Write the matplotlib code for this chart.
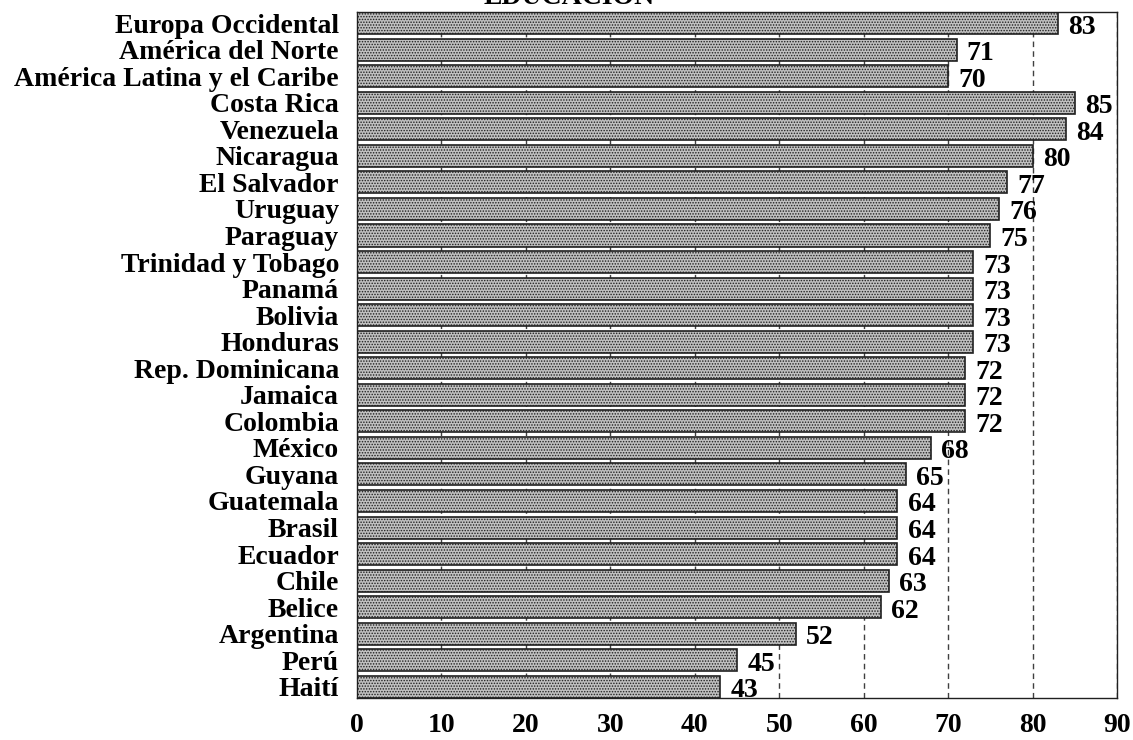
import matplotlib
matplotlib.use('Agg')
import matplotlib.pyplot as plt
import numpy as np

# categories (top to bottom) and values
paises = ['Europa Occidental', 'América del Norte', 'América Latina y el Caribe',
          'Costa Rica', 'Venezuela', 'Nicaragua', 'El Salvador', 'Uruguay',
          'Paraguay', 'Trinidad y Tobago', 'Panamá', 'Bolivia', 'Honduras',
          'Rep. Dominicana', 'Jamaica', 'Colombia', 'México', 'Guyana',
          'Guatemala', 'Brasil', 'Ecuador', 'Chile', 'Belice', 'Argentina',
          'Perú', 'Haití']
valores = [83, 71, 70, 85, 84, 80, 77, 76, 75, 73, 73, 73, 73, 72, 72, 72,
           68, 65, 64, 64, 64, 63, 62, 52, 45, 43]
xticks = [0, 10, 20, 30, 40, 50, 60, 70, 80, 90]
titulo = 'EDUCACIÓN'

plt.rcParams['font.family'] = ['Liberation Serif', 'DejaVu Serif']
plt.rcParams['font.weight'] = 'bold'
plt.rcParams['hatch.color'] = '#606060'
plt.rcParams['hatch.linewidth'] = 0.7

fig = plt.figure(figsize=(11.33, 7.4), dpi=100)
ax = fig.add_axes([0.3151, 0.0568, 0.6708, 0.9270])

y = np.arange(len(paises))[::-1]
ax.barh(y, valores, height=0.83, color='#c0c0c0', edgecolor='#202020',
        linewidth=1.2, hatch='......', zorder=2)

# value labels at the end of each bar
for yi, v in zip(y, valores):
    ax.text(v + 1.2, yi - 0.15, str(v), va='center', ha='left',
            fontsize=20, fontweight='bold', zorder=3)

ax.set_xlim(0, 90)
ax.set_ylim(-0.42, len(paises) - 0.58)
ax.set_yticks(y)
ax.set_yticklabels(paises, fontsize=20, fontweight='bold')
ax.set_xticks(xticks)
ax.set_xticklabels([str(t) for t in xticks], fontsize=20, fontweight='bold')
ax.tick_params(axis='y', length=0, pad=13)
ax.tick_params(axis='x', length=0, pad=11)

ax.grid(axis='x', color='#404040', linestyle=(0, (4, 3)), linewidth=1.0, zorder=1)
ax.set_axisbelow(True)
for s in ax.spines.values():
    s.set_linewidth(1.0)
    s.set_color('#202020')

# title sits mostly above the top edge, as in the original
fig.text(0.502, 1 - 4 / 740, titulo, ha='center', va='baseline',
         fontsize=20, fontweight='bold')

fig.savefig('out.png', dpi=100)
